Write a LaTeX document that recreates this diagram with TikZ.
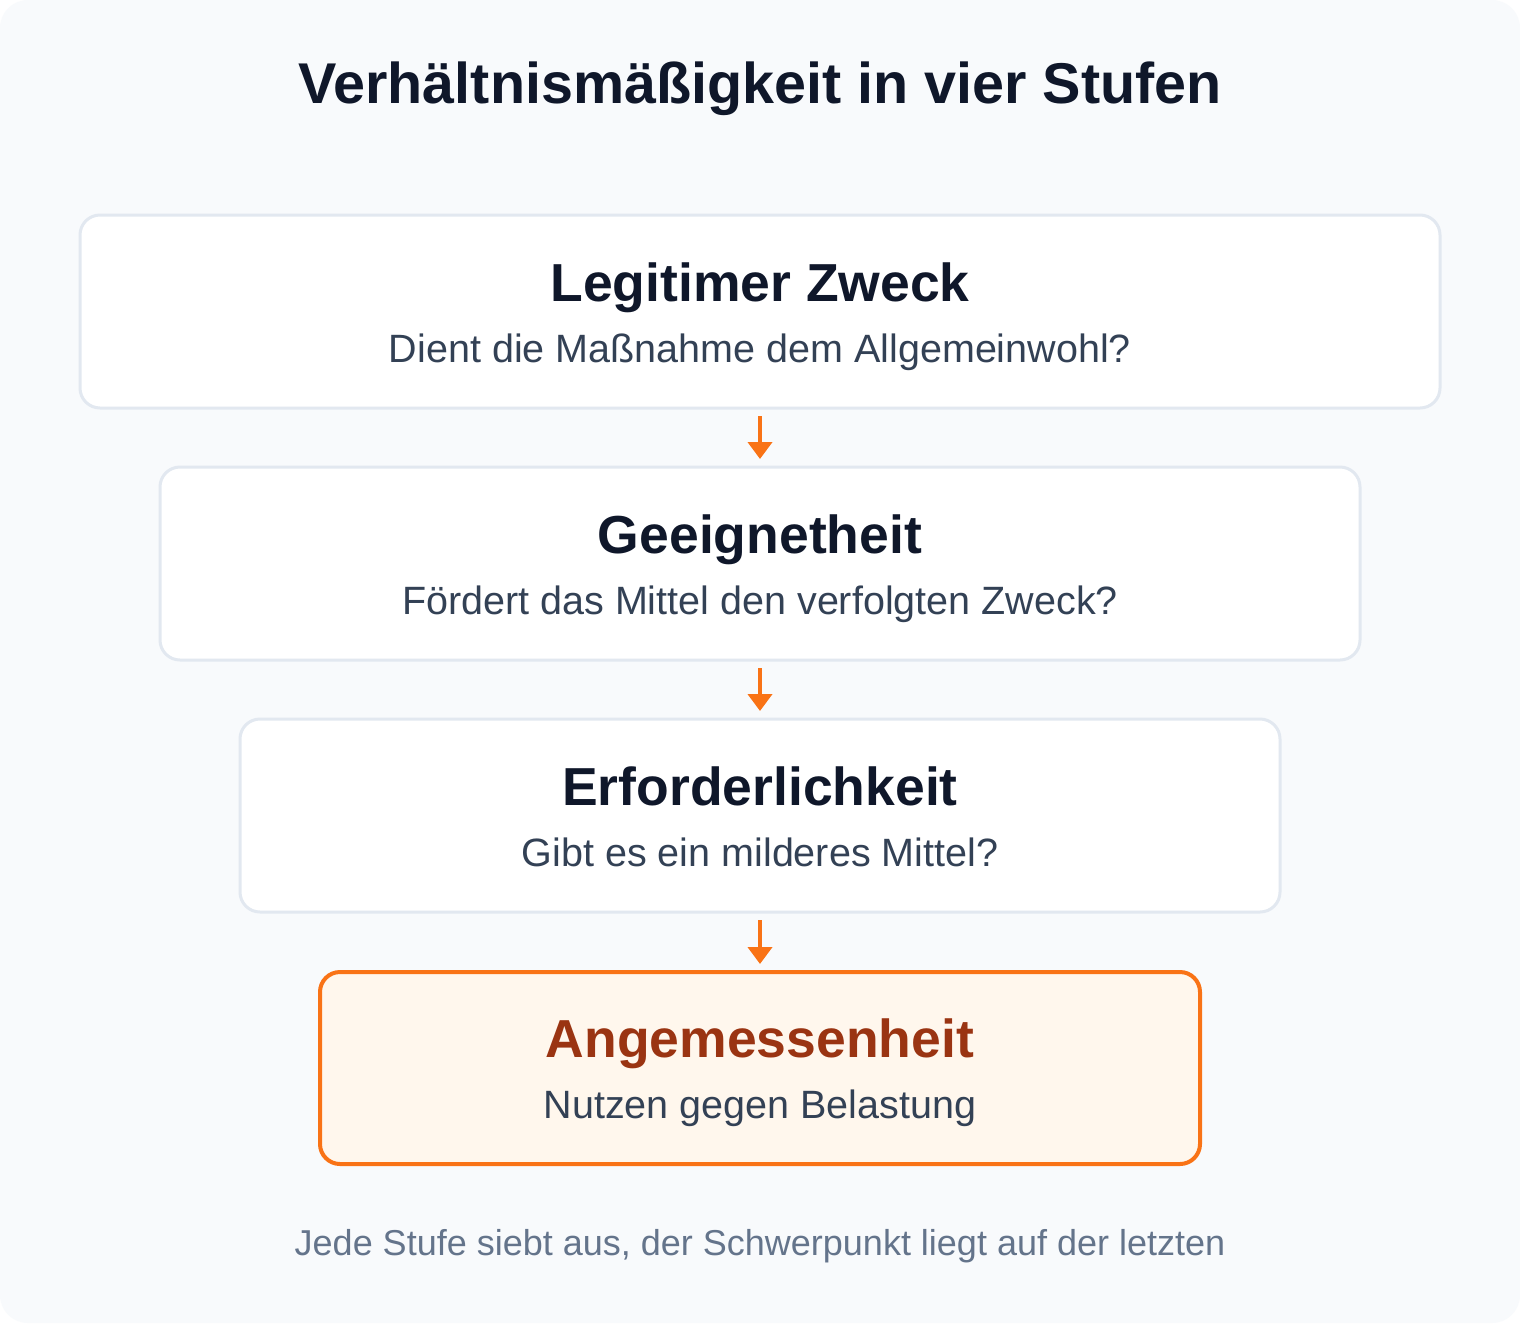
\documentclass[tikz,border=0pt]{standalone}
\usepackage{fontspec}
\setmainfont{Liberation Sans}
\usetikzlibrary{arrows.meta}
\definecolor{bgc}{HTML}{F8FAFC}
\definecolor{boxline}{HTML}{E2E8F0}
\definecolor{titlec}{HTML}{0F172A}
\definecolor{subc}{HTML}{334155}
\definecolor{footc}{HTML}{64748B}
\definecolor{orangec}{HTML}{F97316}
\definecolor{orangefill}{HTML}{FFF7ED}
\definecolor{orangetext}{HTML}{9A3412}
\tikzset{
  stage/.style={draw=boxline, line width=3pt, fill=white, rounded corners=20pt, inner sep=0pt, outer sep=0pt},
  keystage/.style={draw=orangec, line width=4pt, fill=orangefill, rounded corners=20pt, inner sep=0pt, outer sep=0pt},
  stagetitle/.style={anchor=base, font=\fontsize{53.5}{60}\selectfont\bfseries, text=titlec, inner sep=0pt},
  stagesub/.style={anchor=base, font=\fontsize{39.5}{44}\selectfont, text=subc, inner sep=0pt},
  flow/.style={draw=orangec, line width=4pt, -{Triangle[width=24pt,length=17pt]}, shorten <=8pt, shorten >=8pt}
}
\begin{document}
\begin{tikzpicture}[x=1pt,y=-1pt]
\useasboundingbox (0,0) rectangle (1520,1334);
\fill[white] (0,0) rectangle (1520,1334);
\fill[bgc, rounded corners=28pt] (0,0) rectangle (1520,1323);
\node[anchor=base, font=\fontsize{57.5}{66}\selectfont\bfseries, text=titlec, inner sep=0pt] (title) at (760,103) {Verhältnismäßigkeit in vier Stufen};
% boxes
\path[stage] (80,215) rectangle (1440,408);
\node[minimum width=1360pt, minimum height=193pt, inner sep=0pt, outer sep=0pt] (b1) at (760,311.5) {};
\path[stage] (160,467) rectangle (1360,660);
\node[minimum width=1200pt, minimum height=193pt, inner sep=0pt, outer sep=0pt] (b2) at (760,563.5) {};
\path[stage] (240,719) rectangle (1280,912);
\node[minimum width=1040pt, minimum height=193pt, inner sep=0pt, outer sep=0pt] (b3) at (760,815.5) {};
\path[keystage] (320,972) rectangle (1200,1164);
\node[minimum width=880pt, minimum height=192pt, inner sep=0pt, outer sep=0pt] (b4) at (760,1068) {};
% texts
\node[stagetitle] (t1) at (760,301) {Legitimer Zweck};
\node[stagesub] (s1) at (760,362) {Dient die Maßnahme dem Allgemeinwohl?};
\node[stagetitle] (t2) at (760,553) {Geeignetheit};
\node[stagesub] (s2) at (760,614) {Fördert das Mittel den verfolgten Zweck?};
\node[stagetitle] (t3) at (760,805) {Erforderlichkeit};
\node[stagesub] (s3) at (760,866) {Gibt es ein milderes Mittel?};
\node[stagetitle, text=orangetext] (t4) at (760,1057) {Angemessenheit};
\node[stagesub] (s4) at (760,1118) {Nutzen gegen Belastung};
% arrows
\draw[flow] (b1.south) -- (b2.north);
\draw[flow] (b2.south) -- (b3.north);
\draw[flow] (b3.south) -- (b4.north);
% footer
\node[anchor=base, font=\fontsize{36}{40}\selectfont, text=footc, inner sep=0pt] (foot) at (760,1255) {Jede Stufe siebt aus, der Schwerpunkt liegt auf der letzten};
\end{tikzpicture}
\end{document}
